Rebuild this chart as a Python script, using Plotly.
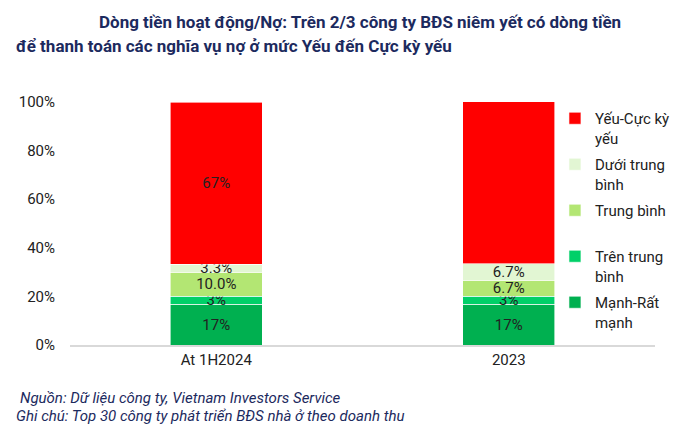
import plotly.graph_objects as go

categories = ["At 1H2024", "2023"]
series_names = ["Mạnh-Rất<br>mạnh", "Trên trung<br>bình", "Trung bình<br> ", "Dưới trung<br>bình", "Yếu-Cực kỳ<br>yếu"]
manh = [0.167, 0.167]
tren_tb = [0.033, 0.033]
trung_binh = [0.100, 0.067]
duoi_tb = [0.033, 0.067]
yeu = [0.667, 0.667]
labels_manh = ["17%", "17%"]
labels_tren = ["3%", "3%"]
labels_tb = ["10.0%", "6.7%"]
labels_duoi = ["3.3%", "6.7%"]
labels_yeu = ["67%", "67%"]
colors = ["#00B050", "#00D068", "#B3E673", "#E2F6D3", "#FF0000"]

values = [manh, tren_tb, trung_binh, duoi_tb, yeu]
labels = [labels_manh, labels_tren, labels_tb, labels_duoi, labels_yeu]

FS = 15
fig = go.Figure()
for i, (name, vals, labs, col) in enumerate(zip(series_names, values, labels, colors)):
    fig.add_trace(go.Bar(
        x=categories, y=vals, name=name, text=labs,
        textposition="inside", insidetextanchor="middle", constraintext="none",
        textfont=dict(family="Roboto", size=FS, color="#222222"),
        marker=dict(color=col, line=dict(color="white", width=0.6)),
        legendgroup=f"g{i}", legendrank=10 - i, hoverinfo="skip",
    ))

fig.update_layout(
    width=686, height=433,
    barmode="stack", bargap=0.685,
    plot_bgcolor="white", paper_bgcolor="white",
    margin=dict(l=62, r=39, t=94, b=96),
    font=dict(family="Roboto", size=FS, color="#222222"),
    showlegend=True,
    legend=dict(
        x=0.829, y=1.0, xanchor="left", yanchor="top",
        traceorder="grouped", tracegroupgap=4, maxheight=400,
        valign="top", font=dict(family="Roboto", size=FS, color="#222222"),
        itemwidth=30, bgcolor="rgba(0,0,0,0)",
    ),
    xaxis=dict(showline=True, linecolor="#D9D9D9", linewidth=1.5, ticks="",
               tickfont=dict(size=FS, color="#222222"), showgrid=False),
    yaxis=dict(range=[0, 1], tickvals=[0, 0.2, 0.4, 0.6, 0.8, 1.0], tickformat=".0%",
               showgrid=False, showline=False, zeroline=False,
               ticklabelstandoff=14, tickfont=dict(size=FS, color="#222222")),
)
fig.update_traces(cliponaxis=False)

navy = "#1C2A5E"
fig.add_annotation(text="<b>Dòng tiền hoạt động/Nợ: Trên 2/3 công ty BĐS niêm yết có dòng tiền</b>",
                   xref="paper", yref="paper", x=(97-70)/585, y=(345-22)/243, xanchor="left", yanchor="middle",
                   showarrow=False, font=dict(family="Roboto", size=17, color=navy))
fig.add_annotation(text="<b>để thanh toán các nghĩa vụ nợ ở mức Yếu đến Cực kỳ yếu</b>",
                   xref="paper", yref="paper", x=(14-70)/585, y=(345-46)/243, xanchor="left", yanchor="middle",
                   showarrow=False, font=dict(family="Roboto", size=17, color=navy))
fig.add_annotation(text="<i>Nguồn: Dữ liệu công ty, Vietnam Investors Service</i>",
                   xref="paper", yref="paper", x=(18-70)/585, y=(345-398)/243, xanchor="left", yanchor="middle",
                   showarrow=False, font=dict(family="Roboto", size=15, color=navy))
fig.add_annotation(text="<i>Ghi chú: Top 30 công ty phát triển BĐS nhà ở theo doanh thu</i>",
                   xref="paper", yref="paper", x=(14-70)/585, y=(345-416)/243, xanchor="left", yanchor="middle",
                   showarrow=False, font=dict(family="Roboto", size=15, color=navy))

fig.write_html("out.html")
